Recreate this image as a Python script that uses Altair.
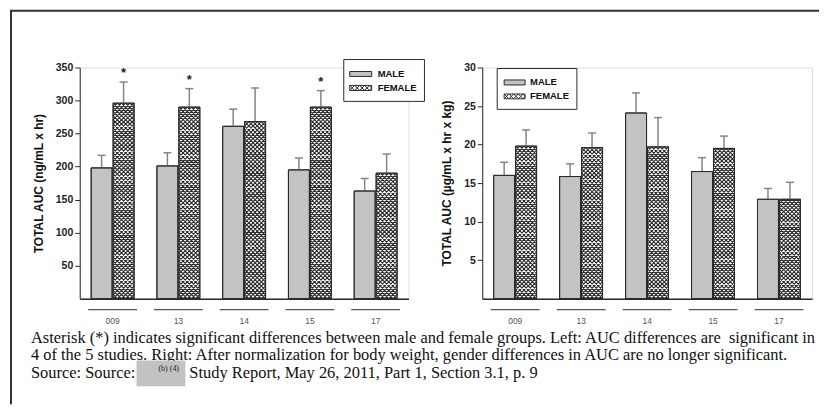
import altair as alt
import pandas as pd

# ---------------- data ----------------
studies = ["009", "13", "14", "15", "17"]
groups = ["MALE", "FEMALE"]

left_male = [198, 201, 261, 195, 163]
left_male_upper = [217, 221, 287, 213, 182]
left_female = [296, 290, 268, 290, 190]
left_female_upper = [328, 318, 319, 315, 219]
left_sig = [True, True, False, True, False]
left_ticks = [50, 100, 150, 200, 250, 300, 350]

right_male = [16.0, 15.85, 24.1, 16.5, 12.9]
right_male_upper = [17.7, 17.5, 26.7, 18.3, 14.3]
right_female = [19.8, 19.6, 19.7, 19.5, 12.9]
right_female_upper = [21.9, 21.5, 23.5, 21.1, 15.1]
right_sig = [False, False, False, False, False]
right_ticks = [5, 10, 15, 20, 25, 30]

caption_1 = ("Asterisk (*) indicates significant differences between male and female groups. "
             "Left: AUC differences are\u00a0 significant in")
caption_2 = ("4 of the 5 studies. Right: After normalization for body weight, gender differences "
             "in AUC are no longer significant.")
caption_3a = "Source: Source:"
caption_3b = "(b) (4)"
caption_3c = "Study Report, May 26, 2011, Part 1, Section 3.1, p. 9"

# ---------------- style ----------------
FONT = "Liberation Sans"
SERIF = "Liberation Serif"
DARK = "#2b2b2b"
MALE_FILL = "#c3c3c3"
ERR = "#858585"
H = 232
CELL = 4.2
BARW = 21.0
# one row of crosshatch cells spanning the bar width (path units: -1..1 = bar width)
_h = 2 * CELL / BARW
_parts = []
for k in range(5):
    cx = -1 + _h * (k + 0.5)
    _parts.append(f"M{cx - _h / 2:.4f},{-_h / 2:.4f}L{cx + _h / 2:.4f},{_h / 2:.4f}"
                  f"M{cx - _h / 2:.4f},{_h / 2:.4f}L{cx + _h / 2:.4f},{-_h / 2:.4f}")
ROWPATH = "".join(_parts)
SWATCH = ("M-1,-0.23L1,-0.23L1,0.23L-1,0.23Z"
          "M-1,-0.23L-0.55,0.23L-0.1,-0.23L0.35,0.23L0.8,-0.23L1,0"
          "M-1,0.23L-0.55,-0.23L-0.1,0.23L0.35,-0.23L0.8,0.23L1,0")

one = pd.DataFrame({"k": [0]})


def make_df(male, male_up, female, female_up, sig):
    rows = []
    for i, s in enumerate(studies):
        rows.append(dict(study=s, sex="MALE", value=male[i], upper=male_up[i], sig=False))
        rows.append(dict(study=s, sex="FEMALE", value=female[i], upper=female_up[i], sig=sig[i]))
    return pd.DataFrame(rows)


def pattern_df(female, step0):
    # texture rows filling each female bar (a whole number of cells per bar)
    rows = []
    for i, s in enumerate(studies):
        n = max(1, int(round(female[i] / step0)))
        step = female[i] / n
        for j in range(n):
            rows.append(dict(study=s, sex="FEMALE", yc=step * (j + 0.5)))
    return pd.DataFrame(rows)


def value_rect(x0, x1, y0, y1, **kw):
    return alt.Chart(one).mark_rect(**kw).encode(
        x=alt.value(x0), x2=alt.value(x1), y=alt.value(y0), y2=alt.value(y1))


def value_text(txt, x, y, **kw):
    return alt.Chart(one).mark_text(text=txt, align="left", baseline="middle", **kw).encode(
        x=alt.value(x), y=alt.value(y))


def legend(bx0, bx1, by0, by1, sx0, sx1, ym, yf, tx):
    box = value_rect(bx0, bx1, by0, by1, fill="white", stroke=DARK, strokeWidth=1)
    msw = value_rect(sx0, sx1, ym - 2.5, ym + 2.5, fill=MALE_FILL, stroke=DARK, strokeWidth=1)
    fsw = alt.Chart(one).mark_point(
        shape=SWATCH, size=(sx1 - sx0) ** 2, filled=True, fill="white",
        stroke=DARK, strokeWidth=1, opacity=1).encode(
        x=alt.value((sx0 + sx1) / 2), y=alt.value(yf))
    tm = value_text("MALE", tx, ym, font=FONT, fontSize=9.5, fontWeight="bold", color="#111")
    tf = value_text("FEMALE", tx, yf, font=FONT, fontSize=9.5, fontWeight="bold", color="#111")
    return [box, msw, fsw, tm, tf]


def panel(male, male_up, female, female_up, sig, ymax, yticks, ytitle, width,
          title_pad, legend_layers, extra_layers):
    df = make_df(male, male_up, female, female_up, sig)
    step = CELL * ymax / H
    pdf = pattern_df(female, step)

    xscale = alt.Scale(domain=studies, paddingInner=0, paddingOuter=0)
    xaxis = alt.Axis(title=None, ticks=False, domain=True, domainColor=DARK, domainWidth=1.5,
                     labelFont=FONT, labelFontSize=8.5, labelColor="#555", labelPadding=18,
                     labelAngle=0)
    yscale = alt.Scale(domain=[0, ymax], nice=False, zero=True)
    yaxis = alt.Axis(title=ytitle, values=yticks, grid=False, domainColor=DARK, domainWidth=1,
                     tickColor=DARK, tickSize=5, labelFont=FONT, labelFontSize=10.5,
                     labelFontWeight="bold", labelColor="#222", labelPadding=2,
                     titleFont=FONT, titleFontSize=12, titleFontWeight="bold",
                     titleColor="#111", titlePadding=title_pad)
    X = alt.X("study:N", scale=xscale, axis=xaxis, sort=studies)
    XO = alt.XOffset("sex:N", scale=alt.Scale(domain=groups, paddingInner=0.045,
                                              paddingOuter=0.52), sort=groups)

    def Y(field):
        return alt.Y(field + ":Q", scale=yscale, axis=yaxis, title=ytitle)

    base = alt.Chart(df)
    bars = base.mark_bar(stroke=DARK, strokeWidth=1).encode(
        x=X, xOffset=XO, y=Y("value"),
        fill=alt.Fill("sex:N", scale=alt.Scale(domain=groups, range=[MALE_FILL, "#ffffff"]),
                      legend=None))
    err = base.mark_rule(color=ERR, strokeWidth=1.5).encode(
        x=X, xOffset=XO, y=Y("value"), y2="upper:Q")
    cap = base.mark_tick(orient="horizontal", size=8, thickness=1.5, color=ERR, opacity=1).encode(
        x=X, xOffset=XO, y=Y("upper"))
    pat = alt.Chart(pdf).mark_point(
        shape=ROWPATH, size=BARW ** 2, filled=False, stroke=DARK, strokeWidth=1.1,
        opacity=1).encode(x=X, xOffset=XO, y=Y("yc"))
    outline = base.mark_bar(fillOpacity=0, stroke=DARK, strokeWidth=1).encode(
        x=X, xOffset=XO, y=Y("value"))
    stars = base.transform_filter("datum.sig").mark_text(
        text="*", font=FONT, fontSize=13, fontWeight="bold", baseline="alphabetic",
        dy=-5, color="#222").encode(x=X, xOffset=XO, y=Y("upper"))
    under = base.transform_filter("datum.sex == 'MALE'").mark_tick(
        orient="horizontal", size=49, thickness=1.3, color="#555", opacity=1).encode(
        x=X, y=alt.value(H + 11))

    layers = [bars, err, cap, pat, outline, stars, under] + legend_layers + extra_layers
    return alt.layer(*layers).properties(width=width, height=H)


# frame + caption, positioned relative to the left plot area
frame = [
    alt.Chart(one).mark_rule(color="#333", strokeWidth=2).encode(
        x=alt.value(-69), y=alt.value(-57), y2=alt.value(338)),
    alt.Chart(one).mark_rule(color="#333", strokeWidth=2).encode(
        x=alt.value(-70), x2=alt.value(742), y=alt.value(-57)),
]
caption = [
    value_text(caption_1, -49, 271.5, font=SERIF, fontSize=16.5, color="#111"),
    value_text(caption_2, -49, 289, font=SERIF, fontSize=16.5, color="#111"),
    value_rect(57, 106, 294, 320, fill="#c2c2c2"),
    value_text(caption_3a, -49, 306.5, font=SERIF, fontSize=16.5, color="#111"),
    value_text(caption_3b, 79, 303, font=SERIF, fontSize=8, color="#222"),
    value_text(caption_3c, 110, 306.5, font=SERIF, fontSize=16.5, color="#111"),
]

left = panel(left_male, left_male_upper, left_female, left_female_upper, left_sig,
             350, left_ticks, "TOTAL AUC (ng/mL x hr)", 330, 9.5,
             legend(265, 346, -8, 34, 271, 293, 6.5, 20.5, 299), frame + caption)
right = panel(right_male, right_male_upper, right_female, right_female_upper, right_sig,
              30, right_ticks, "TOTAL AUC (µg/mL x hr x kg)", 331, 10.5,
              legend(15, 95, 1, 42, 22, 43, 15, 29, 48), [])

chart = alt.hconcat(left, right, spacing=74, bounds="flush", padding=0).configure_view(
    stroke=None).configure(background="white")

chart.save("out.html", embed_options={"renderer": "svg", "actions": False})
